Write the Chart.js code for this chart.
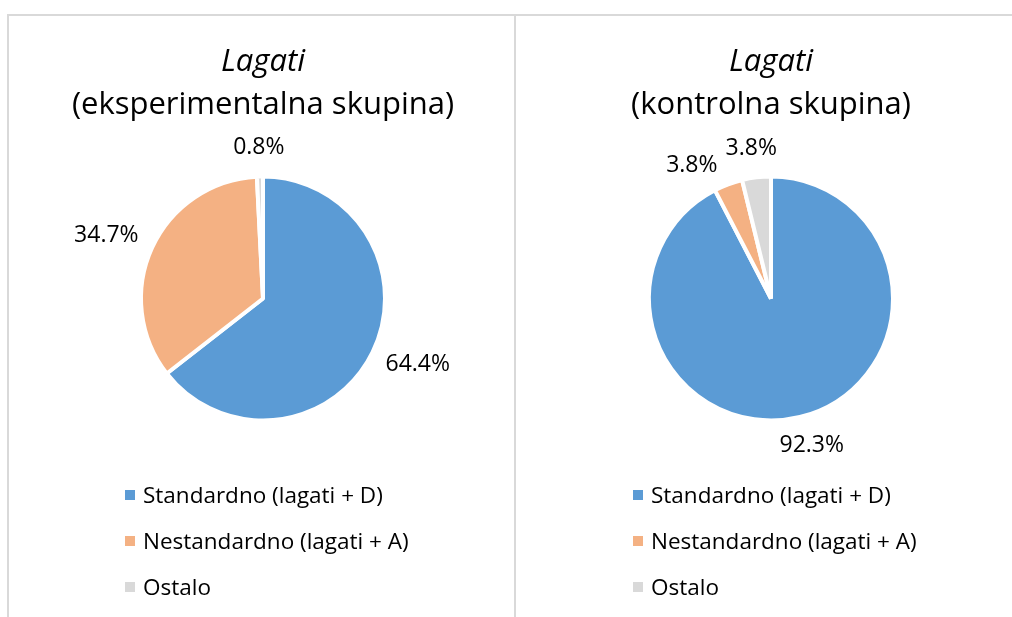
<!DOCTYPE html>
<html>
<head>
<meta charset="utf-8">
<script src="https://cdn.jsdelivr.net/npm/chart.js@4.4.1/dist/chart.umd.min.js"></script>
<style>
  html, body { margin: 0; padding: 0; background: #fff; }
  body { width: 1012px; height: 617px; overflow: hidden; position: relative; font-family: "Open Sans", sans-serif; }
  .frame { position: absolute; left: 7px; top: 14px; width: 1100px; height: 700px; border-left: 2px solid #d9d9d9; border-top: 2px solid #d9d9d9; }
  .divider { position: absolute; left: 514px; top: 14px; width: 2px; height: 603px; background: #d9d9d9; }
  .chart { position: absolute; top: 15px; }
  .legend { position: absolute; top: 472px; margin: 0; padding: 0; list-style: none; }
  .legend li { height: 46px; line-height: 46px; font-size: 22.5px; color: #000; white-space: nowrap; }
  .legend span { display: inline-block; width: 10px; height: 10px; margin-right: 8px; vertical-align: middle; position: relative; top: -2px; }
</style>
</head>
<body>
<div class="frame"></div>
<div class="divider"></div>
<canvas id="pie-exp" class="chart" style="left:13px" width="500" height="480"></canvas>
<canvas id="pie-ctrl" class="chart" style="left:521px" width="500" height="480"></canvas>
<ul id="legend-exp" class="legend" style="left:125px"></ul>
<ul id="legend-ctrl" class="legend" style="left:633px"></ul>
<script>
// chart data
var categories = ['Standardno (lagati + D)', 'Nestandardno (lagati + A)', 'Ostalo'];
var expValues = [64.4, 34.7, 0.8];
var ctrlValues = [92.3, 3.8, 3.8];
var titleText = 'Lagati';
var expSubtitle = '(eksperimentalna skupina)';
var ctrlSubtitle = '(kontrolna skupina)';
var sliceColors = ['#5B9BD5', '#F4B183', '#D9D9D9'];

// percent labels outside the slices, nudged round the circle when two collide
var outsideLabels = {
    id: 'outsideLabels',
    afterDatasetsDraw: function(chart) {
        var ctx = chart.ctx;
        var meta = chart.getDatasetMeta(0);
        var values = chart.data.datasets[0].data;
        var h = 22, gap = 18, pad = 6;
        var placed = [];

        ctx.save();
        ctx.font = '23px "Open Sans"';
        ctx.fillStyle = '#000';
        ctx.textAlign = 'center';
        ctx.textBaseline = 'middle';

        for (var i = meta.data.length - 1; i >= 0; i--) {
            var p = meta.data[i].getProps(['x', 'y', 'startAngle', 'endAngle', 'outerRadius'], true);
            var text = values[i].toFixed(1) + '%';
            var w = ctx.measureText(text).width;
            var a = (p.startAngle + p.endAngle) / 2;
            var box;
            for (var n = 0; n < 90; n++) {
                var c = Math.cos(a), s = Math.sin(a);
                var cx = p.x + (p.outerRadius + gap) * c + w / 2 * c;
                var cy = p.y + (p.outerRadius + gap) * s + h / 2 * s;
                box = { x0: cx - w / 2, x1: cx + w / 2, y0: cy - h / 2, y1: cy + h / 2, cx: cx, cy: cy };
                var hit = placed.some(function(b) {
                    return box.x0 < b.x1 + pad && box.x1 > b.x0 - pad && box.y0 < b.y1 + pad && box.y1 > b.y0 - pad;
                });
                if (!hit) break;
                a -= Math.PI / 180;
            }
            placed.push(box);
            ctx.fillText(text, box.cx, box.cy);
        }
        ctx.restore();
    }
};

function makePie(id, values, subtitle) {
    var ctx = document.getElementById(id).getContext('2d');
    return new Chart(ctx, {
        type: 'pie',
        data: {
            labels: categories,
            datasets: [{
                data: values,
                backgroundColor: sliceColors,
                borderColor: '#ffffff',
                borderWidth: 4,
                radius: 122
            }]
        },
        options: {
            responsive: false,
            animation: false,
            layout: { padding: { top: 0, bottom: 22.1, left: 0, right: 0 } },
            plugins: {
                legend: { display: false },
                tooltip: { enabled: false },
                title: {
                    display: true,
                    text: titleText,
                    color: '#000',
                    font: { family: '"Open Sans"', size: 31, style: 'italic', weight: 'normal' },
                    padding: { top: 28.9, bottom: 0 }
                },
                subtitle: {
                    display: true,
                    text: subtitle,
                    color: '#000',
                    font: { family: '"Open Sans"', size: 31, weight: 'normal' },
                    padding: { top: 5.8, bottom: 0 }
                }
            }
        },
        plugins: [outsideLabels]
    });
}

function buildLegend(id, chart) {
    var ul = document.getElementById(id);
    chart.data.labels.forEach(function(label, i) {
        var li = document.createElement('li');
        var box = document.createElement('span');
        box.style.background = chart.data.datasets[0].backgroundColor[i];
        li.appendChild(box);
        li.appendChild(document.createTextNode(label));
        ul.appendChild(li);
    });
}

var expChart = makePie('pie-exp', expValues, expSubtitle);
var ctrlChart = makePie('pie-ctrl', ctrlValues, ctrlSubtitle);
buildLegend('legend-exp', expChart);
buildLegend('legend-ctrl', ctrlChart);
</script>
</body>
</html>
